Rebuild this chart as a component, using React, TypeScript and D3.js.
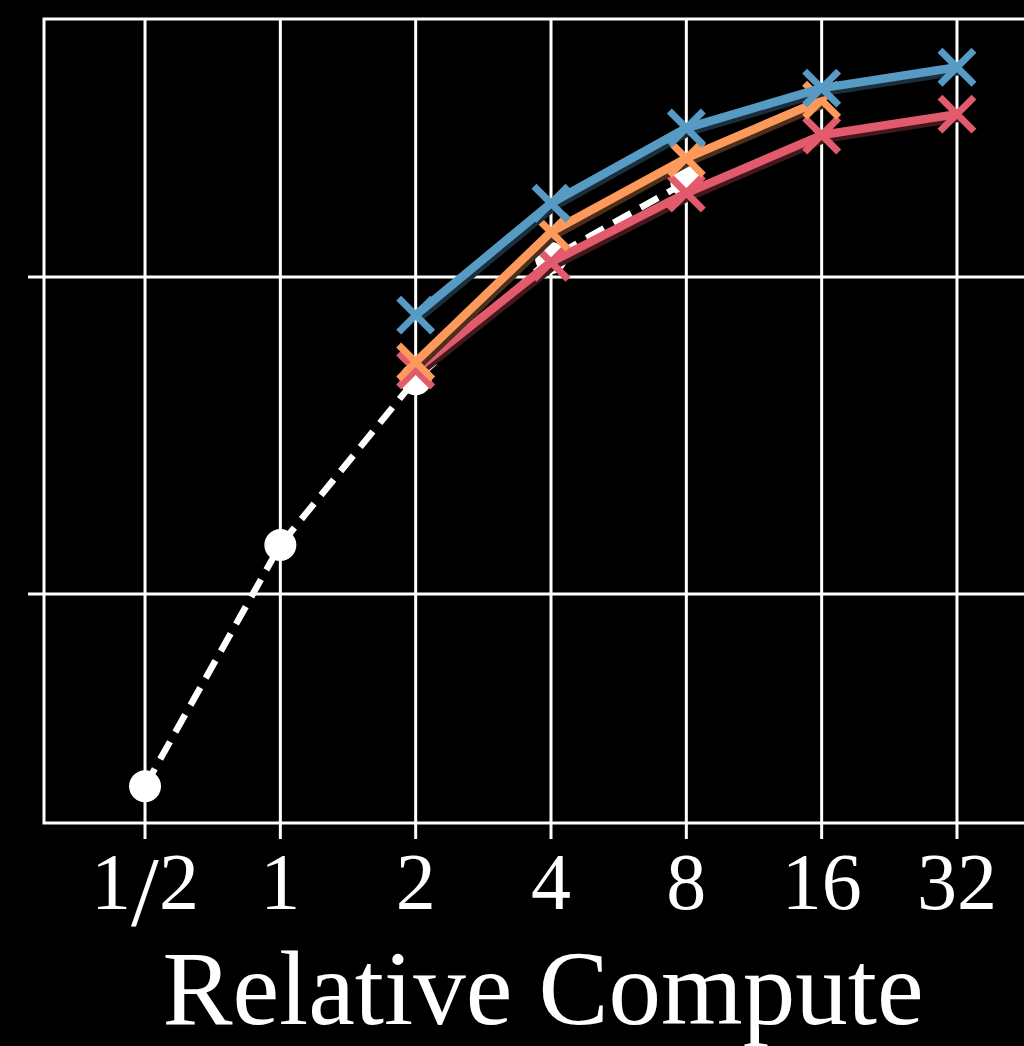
import { useEffect, useRef } from "react"
import * as d3 from "d3"

// relative compute (x, log2)
const compute = [0.5, 1, 2, 4, 8, 16, 32]
const tickLabels = ["1/2", "1", "2", "4", "8", "16", "32"]
const yTicks = [0.5, 0.6]

// baseline (white dashed, circles)
const baseX = [0.5, 1, 2, 4, 8]
const baseY = [0.4394, 0.5155, 0.5678, 0.606, 0.63]

// coloured series
const blueX = [2, 4, 8, 16, 32]
const blueY = [0.588, 0.6233, 0.647, 0.6596, 0.6662]
const orangeX = [2, 4, 8, 16]
const orangeY = [0.5732, 0.6142, 0.6375, 0.6558]
const redX = [2, 4, 8, 16, 32]
const redY = [0.5707, 0.6047, 0.6265, 0.6448, 0.6514]

export default function App() {
  const svgRef = useRef<SVGSVGElement>(null)

  useEffect(() => {
    if (!svgRef.current) return
    const svg = d3.select(svgRef.current)
    svg.selectAll("*").remove()

    const left = 44
    const top = 19
    const bottom = 823
    const right = 1042

    const x = d3.scaleLog().base(2).domain([0.5 / Math.pow(2, 101 / 135.3), 32 * Math.pow(2, 85 / 135.3)]).range([left, right])
    const y = d3.scaleLinear().domain([0.4278, 0.6814]).range([bottom, top])

    svg.append("rect").attr("width", 1024).attr("height", 1046).attr("fill", "black")

    // grid
    const grid = svg.append("g").attr("stroke", "white").attr("stroke-width", 3)
    compute.forEach((c) => {
      grid.append("line").attr("x1", x(c)).attr("x2", x(c)).attr("y1", top).attr("y2", bottom + 16)
    })
    yTicks.forEach((v) => {
      grid.append("line").attr("x1", left - 16).attr("x2", right).attr("y1", y(v)).attr("y2", y(v))
    })

    // spines
    svg.append("path")
      .attr("d", `M${right},${top}H${left}V${bottom}H${right}`)
      .attr("fill", "none")
      .attr("stroke", "white")
      .attr("stroke-width", 3)

    // tick labels (the "/" in 1/2 drawn a bit larger and lower, like mathtext)
    const labels = svg.append("g")
      .selectAll("text")
      .data(compute)
      .join("text")
      .attr("x", (d) => x(d))
      .attr("y", 909)
      .attr("text-anchor", "middle")
      .attr("fill", "white")
      .style("font-family", "'Liberation Serif', 'DejaVu Serif', serif")
      .style("font-size", "80px")
    labels.each(function (d, i) {
      const t = d3.select(this)
      const parts = tickLabels[i].split("/")
      if (parts.length === 2) {
        t.append("tspan").text(parts[0])
        t.append("tspan").attr("dy", 16).style("font-size", "100px").text("/")
        t.append("tspan").attr("dy", -16).text(parts[1])
      } else {
        t.text(tickLabels[i])
      }
    })

    svg.append("text")
      .attr("x", (left + right) / 2)
      .attr("y", 1024)
      .attr("text-anchor", "middle")
      .attr("fill", "white")
      .style("font-family", "'Liberation Serif', 'DejaVu Serif', serif")
      .style("font-size", "105px")
      .text("Relative Compute")

    const line = d3.line<[number, number]>().x((d) => x(d[0])).y((d) => y(d[1]))

    // baseline dashed series
    const basePts = baseX.map((v, i) => [v, baseY[i]] as [number, number])
    svg.append("path")
      .attr("d", line(basePts))
      .attr("fill", "none")
      .attr("stroke", "white")
      .attr("stroke-width", 6.5)
      .attr("stroke-dasharray", "20,11")
    svg.append("g")
      .selectAll("circle")
      .data(basePts)
      .join("circle")
      .attr("cx", (d) => x(d[0]))
      .attr("cy", (d) => y(d[1]))
      .attr("r", 16)
      .attr("fill", "white")

    const series = [
      { xs: redX, ys: redY, color: "#e15b6c", shadow: "#43181d" },
      { xs: orangeX, ys: orangeY, color: "#fd9a5b", shadow: "#4b2e1b" },
      { xs: blueX, ys: blueY, color: "#579bc5", shadow: "#1a2f3b" },
    ]

    series.forEach((s) => {
      const pts = s.xs.map((v, i) => [v, s.ys[i]] as [number, number])
      const g = svg.append("g")
      g.append("path")
        .attr("d", line(pts))
        .attr("transform", "translate(2,3)")
        .attr("fill", "none")
        .attr("stroke", s.shadow)
        .attr("stroke-width", 10)
        .attr("stroke-linejoin", "round")
      g.append("path")
        .attr("d", line(pts))
        .attr("fill", "none")
        .attr("stroke", s.color)
        .attr("stroke-width", 8.5)
        .attr("stroke-linejoin", "round")
      const m = 17
      g.selectAll("path.mark")
        .data(pts)
        .join("path")
        .attr("class", "mark")
        .attr("d", (d) => {
          const cx = x(d[0])
          const cy = y(d[1])
          return `M${cx - m},${cy - m}L${cx + m},${cy + m}M${cx - m},${cy + m}L${cx + m},${cy - m}`
        })
        .attr("stroke", s.color)
        .attr("stroke-width", 7)
    })
  }, [])

  return (
    <svg
      ref={svgRef}
      width={1024}
      height={1046}
      style={{ position: "absolute", left: 0, top: 0, display: "block", overflow: "hidden" }}
    />
  )
}
